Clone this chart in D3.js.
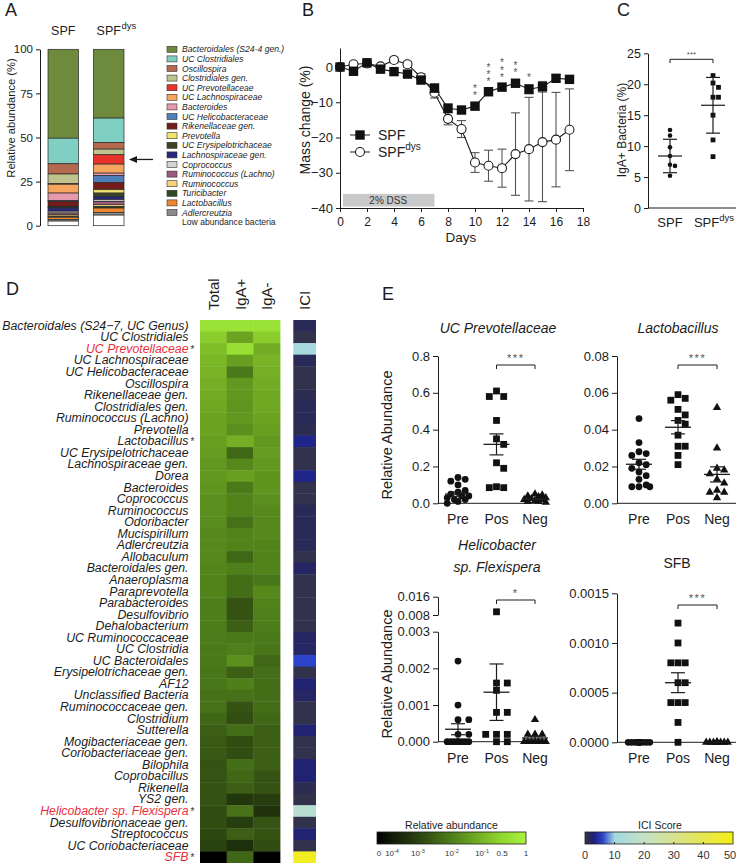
<!DOCTYPE html>
<html><head><meta charset="utf-8">
<script src="https://cdn.jsdelivr.net/npm/d3@7/dist/d3.min.js"></script>
<style>body{margin:0;background:#fff}svg{display:block}</style>
</head><body><svg id="chart" width="738" height="863"></svg>
<script>
const F = '"Liberation Sans", Arial, Helvetica, sans-serif';
const INK = "#1c1c1c";

// ================= DATA =================
// Panel A
const legendTaxa = ["Bacteroidales (S24-4 gen.)","UC Clostridiales","Oscillospira","Clostridiales gen.","UC Prevotellaceae","UC Lachnospiraceae","Bacteroides","UC Helicobacteraceae","Rikenellaceae gen.","Prevotella","UC Erysipelotrichaceae","Lachnospiraceae gen.","Coprococcus","Ruminococcus (Lachno)","Ruminococcus","Turicibacter","Lactobacillus","Adlercreutzia","Low abundance bacteria"];
const taxaColors = ["#6e8b3d","#7fcfc2","#b5694f","#bfc48c","#e8332b","#f5a55e","#e59aae","#4e7fb8","#741c1a","#f2e46a","#3b4424","#27287a","#d4d4d4","#9c5a7c","#f7d27a","#2e4a22","#f0862e","#8c8c8c","#ffffff"];
const groupsA = ["SPF","SPFdys"];
const abundSPF = [50.4,14.5,5.8,5.5,0.3,5.0,4.3,0.4,2.8,0.4,0.6,1.8,1.0,1.0,0.8,0.6,1.4,0.8,2.6];
const abundDys = [39.0,13.9,3.7,3.2,5.3,5.1,1.3,4.0,4.1,1.9,1.9,1.9,1.0,1.8,1.0,0.9,2.5,1.5,6.0];
const ticksA = [0,25,50,75,100];

// Panel B
const days = [0,1,2,3,4,5,6,7,8,9,10,11,12,13,14,15,16,17];
const massSPF = [0,-1.2,1.2,-0.6,-1.3,-2.0,-3.7,-6.0,-11.7,-12.2,-11.1,-7.0,-5.7,-4.6,-6.3,-5.6,-3.2,-3.5];
const errSPF  = [0.5,0.6,0.6,0.6,0.7,0.8,0.9,1.2,1.2,1.0,1.0,1.1,1.0,0.9,1.3,1.5,1.0,1.0];
const massDys = [0,0.8,1.0,0.2,2.0,0.8,-2.9,-7.3,-14.7,-17.6,-27.1,-28.0,-28.7,-24.7,-23.3,-21.3,-20.6,-17.8];
const errDys  = [0.5,0.6,0.6,0.5,0.8,0.8,1.0,1.5,1.7,2.4,2.8,4.4,5.4,11.7,14.7,16.9,13.4,11.6];
const starDays = [10,11,12,13,14];
const starCounts = [2,3,3,2,1];
const ticksBy = [0,-10,-20,-30,-40];
const ticksBx = [0,2,4,6,8,10,12,14,16,18];
const dssDays = [0,7];

// Panel C
const igaSPF = [12.6,11.7,9.8,8.4,7.0,6.8,5.2];
const igaDys = [21.4,20.2,19.5,17.9,17.9,15.0,11.0,8.3];
const igaMean = [8.4,16.6];
const igaSD = [2.7,4.5];
const ticksC = [0,5,10,15,20,25];

// Panel D
const heatTaxa = ["Bacteroidales (S24\u22127, UC Genus)","UC Clostridiales","UC Prevotellaceae","UC Lachnospiraceae","UC Helicobacteraceae","Oscillospira","Rikenellaceae gen.","Clostridiales gen.","Ruminococcus (Lachno)","Prevotella","Lactobacillus","UC Erysipelotrichaceae","Lachnospiraceae gen.","Dorea","Bacteroides","Coprococcus","Ruminococcus","Odoribacter","Mucispirillum","Adlercreutzia","Allobaculum","Bacteroidales gen.","Anaeroplasma","Paraprevotella","Parabacteroides","Desulfovibrio","Dehalobacterium","UC Ruminococcaceae","UC Clostridia","UC Bacteroidales","Erysipelotrichaceae gen.","AF12","Unclassified Bacteria","Ruminococcaceae gen.","Clostridium","Sutterella","Mogibacteriaceae gen.","Coriobacteriaceae gen.","Bilophila","Coprobacillus","Rikenella","YS2 gen.","Helicobacter sp. Flexispera","Desulfovibrionaceae gen.","Streptococcus","UC Coriobacteriaceae","SFB"];
const heatCols = ["Total","IgA+","IgA-"];
const heatTotal = [0.65,0.3,0.15,0.12,0.1,0.08,0.07,0.06,0.05,0.05,0.04,0.035,0.03,0.03,0.025,0.02,0.02,0.018,0.015,0.015,0.014,0.013,0.012,0.012,0.01,0.01,0.009,0.009,0.008,0.008,0.007,0.007,0.006,0.006,0.004,0.003,0.0025,0.0025,0.002,0.002,0.002,0.0018,0.0015,0.0015,0.0012,0.001,0];
const heatIgAPos = [0.65,0.05,0.6,0.04,0.008,0.03,0.03,0.025,0.03,0.02,0.08,0.004,0.015,0.04,0.008,0.012,0.012,0.006,0.012,0.012,0.004,0.01,0.005,0.005,0.002,0.002,0.003,0.008,0.01,0.02,0.003,0.01,0.006,0.002,0.0015,0.005,0.0015,0.0015,0.005,0.004,0.003,0.0006,0.006,0.0008,0.003,0.0004,0.004];
const heatIgANeg = [0.65,0.3,0.07,0.1,0.08,0.07,0.06,0.06,0.05,0.04,0.03,0.035,0.03,0.025,0.025,0.02,0.015,0.015,0.015,0.012,0.012,0.012,0.007,0.015,0.012,0.01,0.009,0.008,0.007,0.004,0.005,0.005,0.005,0.005,0.004,0.003,0.003,0.003,0.003,0.002,0.002,0.0008,0.0005,0.002,0.002,0.0015,0];
const iciScore = [1.5,0.3,11,1.5,0.3,0.3,1.0,1.5,1.5,1.0,3.5,0.3,0.3,3.5,0.3,0.3,1.5,1.5,1.5,1.5,0.3,2.0,0.3,0.3,0.3,0.3,0.3,2.0,2.0,6,0.3,2.5,2.0,0.3,0.3,2.5,0.3,0.3,2.5,2.5,1.0,0.3,16,0.3,2.5,0.3,48];
const highlighted = ["UC Prevotellaceae","Lactobacillus","Helicobacter sp. Flexispera","SFB"];
const redTaxa = ["UC Prevotellaceae","Helicobacter sp. Flexispera","SFB"];
const abundTicks = [0,1e-4,1e-3,1e-2,1e-1,0.5,1];
const abundTickLabels = [["0",""],["10","-4"],["10","-3"],["10","-2"],["10","-1"],["0.5",""],["1",""]];
const iciTicks = [0,10,20,30,40,50];

// Panel E
const cats = ["Pre","Pos","Neg"];
const prevPre = [0.14,0.13,0.12,0.10,0.07,0.06,0.05,0.04,0.04,0.03,0.02,0.02,0.01,0.0];
const prevPos = [0.61,0.58,0.58,0.45,0.35,0.32,0.22,0.19,0.09,0.085,0.085];
const prevNeg = [0.05,0.045,0.04,0.035,0.03,0.025,0.02,0.02,0.015,0.01,0.01,0.005];
const prevMean = [0.05,0.32,0.022]; const prevSEM = [0.012,0.057,0.004];
const lactoPre = [0.046,0.033,0.028,0.027,0.026,0.022,0.021,0.019,0.017,0.015,0.013,0.010,0.009,0.009,0.009];
const lactoPos = [0.059,0.057,0.056,0.051,0.048,0.045,0.043,0.037,0.031,0.031,0.026,0.021];
const lactoNeg = [0.052,0.030,0.019,0.018,0.016,0.013,0.011,0.007,0.006,0.006,0.003];
const lactoMean = [0.0212,0.0413,0.0157]; const lactoSEM = [0.0027,0.0036,0.0041];
const helicoPre = [0.0022,0.001,0.0006,0.0006,0.0002,0.0002,0,0,0,0,0,0,0,0];
const helicoPos = [0.0094,0.0016,0.0016,0.0014,0.0008,0.0008,0.0002,0.0002,0.0002,0,0];
const helicoNeg = [0.0006,0.0002,0.0002,0.0002,0,0,0,0,0,0,0];
const helicoMean = [0.00034,0.00135,0.0001]; const helicoSEM = [0.00015,0.00077,0.00005];
const sfbPre = [0,0,0,0,0,0,0,0,0,0,0,0,0,0];
const sfbPos = [0.0012,0.001,0.0008,0.0008,0.0008,0.0006,0.0006,0.0004,0.0004,0.0004,0.0002,0];
const sfbNeg = [0,0,0,0,0,0,0,0,0,0];
const sfbMean = [0,0.0006,0]; const sfbSEM = [0,0.0001,0];
const ticksPrev = [0,0.2,0.4,0.6,0.8];
const ticksLacto = [0,0.02,0.04,0.06,0.08];
const ticksHelicoLow = [0,0.001,0.002,0.003];
const ticksHelicoHigh = [0.008,0.016];
const ticksSFB = [0,0.0005,0.001,0.0015];

// ================= DRAWING =================
const svg = d3.select("#chart").attr("font-family", F);
function T(g, x, y, s, o = {}) {
  const t = g.append("text").attr("x", x).attr("y", y).text(s)
    .attr("font-size", o.fs || 12).attr("fill", o.fill || INK)
    .attr("text-anchor", o.anchor || "start");
  if (o.italic) t.attr("font-style", "italic");
  if (o.rot) t.attr("transform", `rotate(-90,${x},${y})`);
  if (o.db) t.attr("dominant-baseline", o.db);
  if (o.ls) t.attr("letter-spacing", o.ls);
  return t;
}
function styleAxis(g, fs) {
  g.attr("font-family", F).attr("font-size", fs);
  g.selectAll("text").attr("fill", INK);
  g.selectAll("line,path").attr("stroke", INK).attr("stroke-width", 1);
}
function supLabel(g, cx, y, main, sup, fs, supfs) {
  const t = T(g, cx, y, main, { fs: fs, anchor: "middle" });
  const w = t.node().getComputedTextLength();
  if (sup) T(g, cx + w / 2 + 0.5, y - fs * 0.45, sup, { fs: supfs });
}
function supLabelCentered(g, cx, y, main, sup, fs, supfs) {
  const t = T(g, cx, y, main, { fs: fs, anchor: "middle" });
  t.append("tspan").attr("dy", -fs * 0.45).attr("font-size", supfs).text(sup);
}
function swarm(values, yFn, cx, d, maxHalf) {
  const pts = values.map(v => ({ v, y: yFn(v) })).sort((a, b) => a.y - b.y);
  const placed = [];
  const cands = [0];
  for (let k = 1; k * d / 2 <= maxHalf + 0.01; k++) cands.push(k * d / 2, -k * d / 2);
  pts.forEach(p => {
    let best = 0, bestScore = -Infinity;
    for (const o of cands) {
      let minD = Infinity;
      placed.forEach(q => { const dd = Math.hypot(q.x - (cx + o), q.y - p.y); if (dd < minD) minD = dd; });
      if (minD >= d) { best = o; break; }
      if (minD > bestScore) { bestScore = minD; best = o; }
    }
    p.x = cx + best; placed.push(p);
  });
  return pts;
}

// ---------- Panel A ----------
{
  const g = svg.append("g");
  T(g, 5, 16, "A", { fs: 18 });
  const y = d3.scaleLinear().domain([0, 100]).range([225.7, 49.3]);
  const x = d3.scaleBand().domain(groupsA).range([48, 124]).paddingInner(0.33);
  const rows = groupsA.map((grp, gi) => {
    const o = { group: grp };
    legendTaxa.forEach((t, i) => o[t] = (gi === 0 ? abundSPF : abundDys)[i]);
    return o;
  });
  const series = d3.stack().keys(legendTaxa).order(d3.stackOrderReverse)(rows);
  series.forEach(s => {
    const ci = legendTaxa.indexOf(s.key);
    g.selectAll(null).data(s).enter().append("rect")
      .attr("x", d => x(d.data.group)).attr("width", x.bandwidth())
      .attr("y", d => y(d[1])).attr("height", d => y(d[0]) - y(d[1]))
      .attr("fill", taxaColors[ci]).attr("stroke", "#2a2a2a").attr("stroke-width", 0.7);
  });
  const ax = g.append("g").attr("transform", "translate(40,0)")
    .call(d3.axisLeft(y).tickValues(ticksA).tickSize(4).tickSizeOuter(0));
  styleAxis(ax, 11.5);
  T(g, 11, 118, "Relative abundance (%)", { fs: 11.2, anchor: "middle", rot: true, db: "central" });
  supLabel(g, x("SPF") + x.bandwidth() / 2, 35, "SPF", "", 12.5, 9);
  supLabel(g, x("SPFdys") + x.bandwidth() / 2, 35, "SPF", "dys", 12.5, 9.5);
  const ly = d3.scalePoint().domain(legendTaxa).range([49.3, 222.1]);
  legendTaxa.forEach((t, i) => {
    if (i < legendTaxa.length - 1)
      g.append("rect").attr("x", 167).attr("y", ly(t) - 3).attr("width", 10).attr("height", 6)
        .attr("fill", taxaColors[i]).attr("stroke", "#333").attr("stroke-width", 0.6);
    T(g, 182, ly(t), t, { fs: 8.6, italic: i < legendTaxa.length - 1, db: "central" });
  });
  const ay = y(100 - d3.sum(abundDys.slice(0, 4)) - abundDys[4] / 2);
  g.append("line").attr("x1", 153).attr("x2", 134).attr("y1", ay).attr("y2", ay).attr("stroke", INK).attr("stroke-width", 1.3);
  g.append("path").attr("d", `M129,${ay} L137,${ay - 3.5} L137,${ay + 3.5} Z`).attr("fill", INK);
}

// ---------- Panel B ----------
{
  const g = svg.append("g");
  T(g, 302, 15.5, "B", { fs: 18 });
  const x = d3.scaleLinear().domain([0, 18]).range([340, 583]);
  const y = d3.scaleLinear().domain([-40, 5.4]).range([208, 48]);
  g.append("rect").attr("x", x(dssDays[0]) + 3).attr("width", x(dssDays[1]) - x(dssDays[0]) - 3)
    .attr("y", y(-36)).attr("height", y(-39.6) - y(-36)).attr("fill", "#c9c9c9");
  T(g, (x(dssDays[0]) + x(dssDays[1])) / 2 + 1, y(-37.8), "2% DSS", { fs: 10, anchor: "middle", db: "central", fill: "#333" });
  const ay = g.append("g").attr("transform", "translate(340,0)")
    .call(d3.axisLeft(y).tickValues(ticksBy).tickSize(4).tickSizeOuter(0));
  styleAxis(ay, 13);
  const axb = g.append("g").attr("transform", "translate(0,208)")
    .call(d3.axisBottom(x).tickValues(ticksBx).tickSize(4).tickSizeOuter(0));
  styleAxis(axb, 12);
  axb.selectAll("text").attr("dy", "0.9em");
  T(g, 461, 242, "Days", { fs: 13.5, anchor: "middle" });
  T(g, 305, 120, "Mass change (%)", { fs: 14, anchor: "middle", rot: true, db: "central" });
  const dys = days.map((d, i) => ({ d, v: massDys[i], e: errDys[i] }));
  const spf = days.map((d, i) => ({ d, v: massSPF[i], e: errSPF[i] }));
  [dys, spf].forEach(ser => {
    ser.forEach(p => {
      g.append("line").attr("x1", x(p.d)).attr("x2", x(p.d)).attr("y1", y(p.v + p.e)).attr("y2", y(p.v - p.e)).attr("stroke", "#555").attr("stroke-width", 1.1);
      [p.v + p.e, p.v - p.e].forEach(c => g.append("line").attr("x1", x(p.d) - 4.5).attr("x2", x(p.d) + 4.5).attr("y1", y(c)).attr("y2", y(c)).attr("stroke", "#555").attr("stroke-width", 1.1));
    });
  });
  const line = d3.line().x(p => x(p.d)).y(p => y(p.v));
  g.append("path").attr("d", line(dys)).attr("fill", "none").attr("stroke", INK).attr("stroke-width", 1.1);
  g.append("path").attr("d", line(spf)).attr("fill", "none").attr("stroke", INK).attr("stroke-width", 1.1);
  g.selectAll(null).data(dys).enter().append("circle").attr("cx", p => x(p.d)).attr("cy", p => y(p.v)).attr("r", 4.5)
    .attr("fill", "#fff").attr("stroke", INK).attr("stroke-width", 1.1);
  g.selectAll(null).data(spf).enter().append("rect").attr("x", p => x(p.d) - 4.7).attr("y", p => y(p.v) - 4.7)
    .attr("width", 9.4).attr("height", 9.4).attr("fill", "#111");
  // significance asterisks: one vertical text per day (stacked stars)
  starDays.forEach((d, i) => {
    const bottom = y(massSPF[days.indexOf(d)]) - 14;
    const top = bottom - (starCounts[i] - 1) * 6.4 - 3.2;
    g.append("text").attr("x", x(d)).attr("y", top)
      .style("writing-mode", "vertical-rl").style("text-orientation", "upright")
      .attr("letter-spacing", -3.6).attr("font-size", 10).attr("fill", "#555")
      .text("*".repeat(starCounts[i]));
  });
  g.append("line").attr("x1", 350).attr("x2", 370).attr("y1", 135).attr("y2", 135).attr("stroke", INK);
  g.append("rect").attr("x", 355.3).attr("y", 130.3).attr("width", 9.4).attr("height", 9.4).attr("fill", "#111");
  g.append("line").attr("x1", 350).attr("x2", 370).attr("y1", 152).attr("y2", 152).attr("stroke", INK);
  g.append("circle").attr("cx", 360).attr("cy", 152).attr("r", 4.5).attr("fill", "#fff").attr("stroke", INK).attr("stroke-width", 1.1);
  T(g, 378, 140, "SPF", { fs: 14 });
  const t2 = T(g, 378, 157, "SPF", { fs: 14 });
  t2.append("tspan").attr("dy", -7).attr("font-size", 10).text("dys");
}

// ---------- Panel C ----------
{
  const g = svg.append("g");
  T(g, 617, 15.5, "C", { fs: 18 });
  const y = d3.scaleLinear().domain([0, 25]).range([208, 53.3]);
  const x = d3.scalePoint().domain(groupsA).range([670, 713]);
  const ax = g.append("g").attr("transform", "translate(648,0)")
    .call(d3.axisLeft(y).tickValues(ticksC).tickSize(4).tickSizeOuter(0));
  styleAxis(ax, 12.5);
  g.append("line").attr("x1", 648).attr("x2", 736).attr("y1", 208).attr("y2", 208).attr("stroke", INK);
  T(g, 622, 130, "IgA+ Bacteria (%)", { fs: 12, anchor: "middle", rot: true, db: "central" });
  T(g, x("SPF"), 227, "SPF", { fs: 13, anchor: "middle" });
  supLabelCentered(g, x("SPFdys") + 1, 227, "SPF", "dys", 13, 9.5);
  swarm(igaSPF, y, x("SPF"), 5, 9).forEach(p => g.append("circle").attr("cx", p.x).attr("cy", p.y).attr("r", 2.3).attr("fill", "#111"));
  swarm(igaDys, y, x("SPFdys"), 5.5, 9).forEach(p => g.append("rect").attr("x", p.x - 2.4).attr("y", p.y - 2.4).attr("width", 4.8).attr("height", 4.8).attr("fill", "#111"));
  groupsA.forEach((grp, i) => {
    const cx = x(grp);
    g.append("line").attr("x1", cx - 12).attr("x2", cx + 12).attr("y1", y(igaMean[i])).attr("y2", y(igaMean[i])).attr("stroke", INK).attr("stroke-width", 1.2);
    g.append("line").attr("x1", cx).attr("x2", cx).attr("y1", y(igaMean[i] + igaSD[i])).attr("y2", y(igaMean[i] - igaSD[i])).attr("stroke", INK).attr("stroke-width", 1.2);
    [igaMean[i] + igaSD[i], igaMean[i] - igaSD[i]].forEach(c => g.append("line").attr("x1", cx - 7).attr("x2", cx + 7).attr("y1", y(c)).attr("y2", y(c)).attr("stroke", INK).attr("stroke-width", 1.2));
  });
  g.append("path").attr("d", `M${x("SPF")},63 V59.3 H${x("SPFdys")} V63`).attr("fill", "none").attr("stroke", INK);
  T(g, (x("SPF") + x("SPFdys")) / 2, 57, "***", { fs: 8, anchor: "middle", fill: "#555" });
}

// ---------- Panel D ----------
const posScale = d3.scaleLinear().domain([-4, -3, -2, -1, Math.log10(0.5), 0]).range([0.074, 0.275, 0.503, 0.705, 0.84, 1]).clamp(true);
function abundPos(v) { return v <= 0 ? 0 : (v < 1e-4 ? 0.074 * v / 1e-4 : posScale(Math.log10(v))); }
const abundColor = d3.scaleLinear().domain([0, 0.275, 0.503, 0.705, 0.84, 1])
  .range(["#000000", "#2a4210", "#4f7f1a", "#78b426", "#92d830", "#a8f23e"]);
const iciColor = d3.scaleLinear().domain([0, 1.5, 3, 6, 10, 20, 30, 40, 50])
  .range(["#34344a", "#2a2a58", "#1e1f7c", "#2c44cc", "#a2d8e0", "#c5e2c6", "#d8e28e", "#e7e752", "#f3ef14"]);
{
  const g = svg.append("g");
  T(g, 6, 295, "D", { fs: 18 });
  const y = d3.scaleBand().domain(heatTaxa).range([320, 863]);
  const x = d3.scaleBand().domain(heatCols).range([200, 280]);
  const cols = [heatTotal, heatIgAPos, heatIgANeg];
  heatCols.forEach((c, ci) => {
    g.selectAll(null).data(heatTaxa).enter().append("rect")
      .attr("x", x(c)).attr("width", x.bandwidth() + 0.4)
      .attr("y", t => y(t)).attr("height", y.bandwidth() + 0.4)
      .attr("fill", (t, i) => abundColor(abundPos(cols[ci][i])));
  });
  g.selectAll(null).data(heatTaxa).enter().append("rect")
    .attr("x", 293.3).attr("width", 22.7)
    .attr("y", t => y(t)).attr("height", y.bandwidth() + 0.4)
    .attr("fill", (t, i) => iciColor(iciScore[i]));
  heatCols.forEach(c => T(g, x(c) + x.bandwidth() / 2, 310, c, { fs: 15, rot: true, db: "central" }));
  T(g, 304.6, 310, "ICI", { fs: 15, rot: true, db: "central" });
  heatTaxa.forEach(t => {
    const cy = y(t) + y.bandwidth() / 2;
    const lab = T(g, 188.5, cy, t, { fs: 12.3, italic: true, anchor: "end", db: "central", fill: redTaxa.includes(t) ? "#e8303c" : INK });
    if (highlighted.includes(t)) lab.append("tspan").attr("font-style", "normal").attr("font-size", 10).attr("fill", "#333").attr("dx", 2).text("*");
  });
  g.selectAll("text").filter(function () { return this.querySelector("tspan"); })
    .each(function () { const ts = this.querySelector("tspan"); const w = ts.getComputedTextLength() + 2; d3.select(this).attr("x", 188.5 + w); });
}

// ---------- Panel E ----------
{
  const g = svg.append("g");
  T(g, 382, 300, "E", { fs: 18 });
  function plot(o) {
    const x = d3.scalePoint().domain(cats).range(o.xr);
    o.axes.forEach(a => {
      const ax = g.append("g").attr("transform", `translate(${o.ax},0)`)
        .call(d3.axisLeft(a.scale).tickValues(a.ticks).tickFormat(d3.format(a.fmt)).tickSize(5).tickSizeOuter(0));
      styleAxis(ax, 13);
    });
    g.append("line").attr("x1", o.ax).attr("x2", o.xend).attr("y1", o.y0).attr("y2", o.y0).attr("stroke", INK);
    cats.forEach(c => T(g, x(c), o.y0 + 21, c, { fs: 14, anchor: "middle" }));
    const groups = [o.pre, o.pos, o.neg];
    groups.forEach((vals, gi) => {
      const pts = swarm(vals, o.yf, x(cats[gi]), 7.2, 11);
      pts.forEach(p => {
        if (gi === 0) g.append("circle").attr("cx", p.x).attr("cy", p.y).attr("r", 3.4).attr("fill", "#111");
        else if (gi === 1) g.append("rect").attr("x", p.x - 3.4).attr("y", p.y - 3.4).attr("width", 6.8).attr("height", 6.8).attr("fill", "#111");
        else g.append("path").attr("transform", `translate(${p.x},${p.y})`).attr("d", d3.symbol(d3.symbolTriangle, 30)()).attr("fill", "#111");
      });
      const cx = x(cats[gi]), m = o.mean[gi], s = o.sem[gi];
      g.append("line").attr("x1", cx - 13).attr("x2", cx + 13).attr("y1", o.yf(m)).attr("y2", o.yf(m)).attr("stroke", INK).attr("stroke-width", 1.3);
      if (s > 0) {
        g.append("line").attr("x1", cx).attr("x2", cx).attr("y1", o.yf(m + s)).attr("y2", o.yf(m - s)).attr("stroke", INK).attr("stroke-width", 1.2);
        [m + s, m - s].forEach(c => g.append("line").attr("x1", cx - 7).attr("x2", cx + 7).attr("y1", o.yf(c)).attr("y2", o.yf(c)).attr("stroke", INK).attr("stroke-width", 1.2));
      }
    });
    g.append("path").attr("d", `M${x("Pos")},${o.by + 4} V${o.by} H${x("Neg")} V${o.by + 4}`).attr("fill", "none").attr("stroke", INK);
    T(g, (x("Pos") + x("Neg")) / 2, o.by - 3, o.star, { fs: 11, anchor: "middle", fill: "#555", ls: 1.5 });
    o.title.forEach((tl, i) => T(g, o.tx, o.ty + i * 21.5, tl, { fs: 14, anchor: "middle", italic: o.italic }));
    if (o.ylc) T(g, 387, o.ylc, "Relative Abundance", { fs: 14.5, anchor: "middle", rot: true, db: "central" });
  }
  const y1 = d3.scaleLinear().domain([0, 0.8]).range([503.3, 356]);
  plot({ xr: [458, 535], ax: 438, xend: 546, y0: 503.3, yf: y1, axes: [{ scale: y1, ticks: ticksPrev, fmt: ".1f" }],
    pre: prevPre, pos: prevPos, neg: prevNeg, mean: prevMean, sem: prevSEM, by: 365, star: "***",
    title: ["UC Prevotellaceae"], tx: 498, ty: 333, italic: true, ylc: 435 });
  const y2 = d3.scaleLinear().domain([0, 0.08]).range([503.3, 356]);
  plot({ xr: [639, 717], ax: 617, xend: 736, y0: 503.3, yf: y2, axes: [{ scale: y2, ticks: ticksLacto, fmt: ".2f" }],
    pre: lactoPre, pos: lactoPos, neg: lactoNeg, mean: lactoMean, sem: lactoSEM, by: 365, star: "***",
    title: ["Lactobacillus"], tx: 678, ty: 333, italic: true, ylc: null });
  const y3lo = d3.scaleLinear().domain([0, 0.003]).range([741.7, 631.7]);
  const y3hi = d3.scaleLinear().domain([0.008, 0.016]).range([615, 596.7]);
  const y3 = v => v <= 0.003 ? y3lo(v) : y3hi(v);
  plot({ xr: [458, 535], ax: 438, xend: 546, y0: 741.7, yf: y3,
    axes: [{ scale: y3lo, ticks: ticksHelicoLow, fmt: ".3f" }, { scale: y3hi, ticks: ticksHelicoHigh, fmt: ".3f" }],
    pre: helicoPre, pos: helicoPos, neg: helicoNeg, mean: helicoMean, sem: helicoSEM, by: 600, star: "*",
    title: ["Helicobacter", "sp. Flexispera"], tx: 497, ty: 550, italic: true, ylc: 674 });
  const y4 = d3.scaleLinear().domain([0, 0.0015]).range([742.3, 593.3]);
  plot({ xr: [639, 717], ax: 617, xend: 736, y0: 742.3, yf: y4, axes: [{ scale: y4, ticks: ticksSFB, fmt: ".4f" }],
    pre: sfbPre, pos: sfbPos, neg: sfbNeg, mean: sfbMean, sem: sfbSEM, by: 605, star: "***",
    title: ["SFB"], tx: 677, ty: 568, italic: false, ylc: null });
}

// ---------- Colour bars ----------
{
  const g = svg.append("g");
  const defs = svg.append("defs");
  const ga = defs.append("linearGradient").attr("id", "gAb");
  abundColor.domain().forEach(p => ga.append("stop").attr("offset", p).attr("stop-color", abundColor(p)));
  const xa = d3.scaleLinear().domain([0, 1]).range([377, 526]);
  g.append("rect").attr("x", 377).attr("y", 832).attr("width", 149).attr("height", 12).attr("fill", "url(#gAb)").attr("stroke", "#222").attr("stroke-width", 0.8);
  T(g, 451.5, 829, "Relative abundance", { fs: 10.5, anchor: "middle" });
  abundTicks.forEach((v, i) => {
    const px = xa(abundPos(v));
    const t = T(g, i === 0 ? px + 2 : (i === 1 ? px + 4 : px), 856, abundTickLabels[i][0], { fs: 8, anchor: "middle", fill: "#333" });
    if (abundTickLabels[i][1]) t.append("tspan").attr("dy", -3.5).attr("font-size", 5.5).text(abundTickLabels[i][1]);
  });
  const gi = defs.append("linearGradient").attr("id", "gIci");
  iciColor.domain().forEach(v => gi.append("stop").attr("offset", v / 50).attr("stop-color", iciColor(v)));
  const xi = d3.scaleLinear().domain([0, 50]).range([585, 733]);
  g.append("rect").attr("x", 585).attr("y", 832).attr("width", 148).attr("height", 12).attr("fill", "url(#gIci)").attr("stroke", "#222").attr("stroke-width", 0.8);
  iciTicks.slice(1, -1).forEach(v => g.append("line").attr("x1", xi(v)).attr("x2", xi(v)).attr("y1", 842).attr("y2", 844).attr("stroke", "#222"));
  T(g, 660, 829, "ICI Score", { fs: 10.5, anchor: "middle" });
  iciTicks.forEach(v => T(g, Math.min(xi(v), 730), 859, String(v), { fs: 11, anchor: "middle", fill: "#333" }));
}
</script></body></html>
